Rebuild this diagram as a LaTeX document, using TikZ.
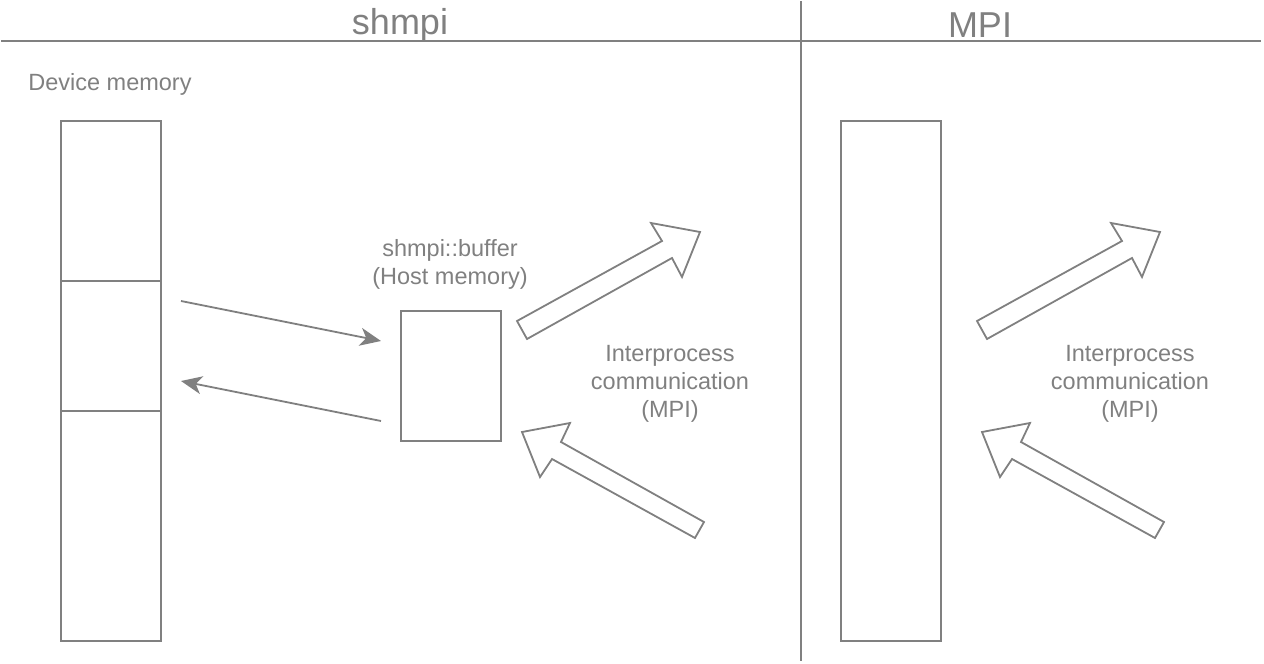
\documentclass[tikz,border=0pt]{standalone}
\usepackage{fontspec}
\setmainfont{Liberation Sans}
\usetikzlibrary{arrows.meta}
\definecolor{gr}{HTML}{808080}
\tikzset{
  box/.style={draw=gr, line width=1.8pt, fill=white, inner sep=0pt, outer sep=0pt},
  lbl/.style={text=gr, font=\fontsize{23.5}{28}\selectfont, align=center, inner sep=0pt},
  ttl/.style={text=gr, font=\fontsize{36}{40}\selectfont, inner sep=0pt},
  rule/.style={draw=gr, line width=1.8pt},
  thin/.style={draw=gr, line width=1.8pt, -{Stealth[length=21pt,width=18pt,inset=6pt]}},
  blk/.style={draw=gr, line width=1.8pt, fill=white, line join=miter}
}
\begin{document}
\begin{tikzpicture}[x=1pt, y=-1pt]
\useasboundingbox (0,0) rectangle (1264,664);
% header lines
\coordinate (hl) at (1,41);
\coordinate (hr) at (1261,41);
\coordinate (vt) at (801,1);
\coordinate (vb) at (801,661);
\draw[rule] (hl) -- (hr);
\draw[rule] (vt) -- (vb);
\node[ttl] (t1) at (400,25) {shmpi};
\node[ttl] (t2) at (980,25) {MPI};
% device memory
\node[lbl] (dml) at (110,84) {Device memory};
\node[box, minimum width=100pt, minimum height=160pt] (dm1) at (111,201) {};
\node[box, minimum width=100pt, minimum height=130pt] (dm2) at (111,346) {};
\node[box, minimum width=100pt, minimum height=230pt] (dm3) at (111,526) {};
% buffer
\node[lbl] (bufl) at (450,264) {shmpi::buffer\\(Host memory)};
\node[box, minimum width=100pt, minimum height=130pt] (buf) at (451,376) {};
% thin arrows
\coordinate (a1s) at (181,301);
\coordinate (a1e) at (381,341);
\coordinate (a2s) at (381,421);
\coordinate (a2e) at (181,381);
\draw[thin] (a1s) -- (a1e);
\draw[thin] (a2s) -- (a2e);
% block arrows
\foreach \dx in {0, 460}{
  \begin{scope}[xshift=\dx pt]
    \draw[blk] (517,321) -- (662,241) -- (651,223) -- (700,232) -- (682,277) -- (672,258) -- (527,339) -- cycle;
    \draw[blk] (522,432) -- (570,423) -- (561,442) -- (704,522) -- (695,538) -- (552,459) -- (540,477) -- cycle;
  \end{scope}
}
\node[lbl] (ipc1) at (670,384) {Interprocess\\communication\\(MPI)};
\node[lbl] (ipc2) at (1130,384) {Interprocess\\communication\\(MPI)};
% MPI column
\node[box, minimum width=100pt, minimum height=520pt] (mcol) at (891,381) {};
\end{tikzpicture}
\end{document}
